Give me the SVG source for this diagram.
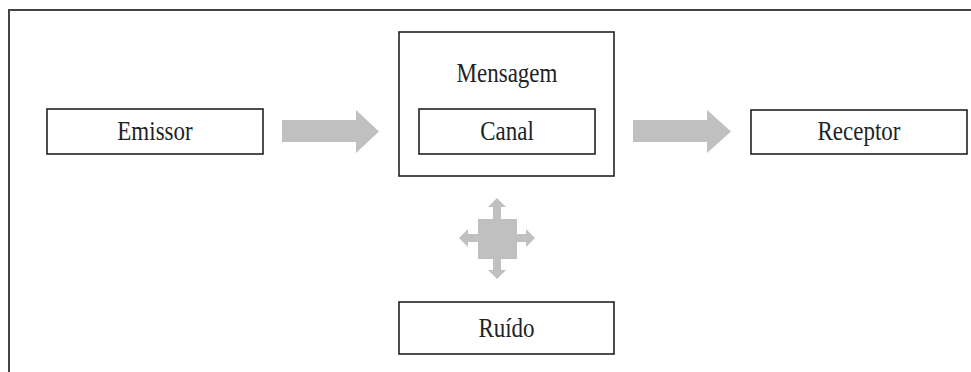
<svg xmlns="http://www.w3.org/2000/svg" width="971" height="372" viewBox="0 0 971 372">
<style>
.box{fill:#fff;stroke:#222;stroke-width:1.6}
.lbl{font-family:"Liberation Serif","Times New Roman",serif;font-size:23px;fill:#222;text-anchor:middle}
.arr{fill:#c0c0c0}
</style>
<rect width="971" height="372" fill="#fff"/>
<path d="M9,372 V10 H971" fill="none" stroke="#444" stroke-width="2"/>
<g id="connectors">
<polygon class="arr" points="282,120 356,120 356,110 379,131.5 356,153 356,142 282,142"/>
<polygon class="arr" points="633,120 707,120 707,110 731,131.5 707,153 707,142 633,142"/>
<polygon class="arr" points="478,219 493,219 493,207 488,207 497,198 506,207 501,207 501,219 517,219 517,234 526,234 526,229 535,238 526,247 526,242 517,242 517,259 501,259 501,270 506,270 497,279 488,270 493,270 493,259 478,259 478,242 468,242 468,247 459,238 468,229 468,234 478,234"/>
</g>
<g id="emissor">
<rect class="box" x="47" y="109" width="216" height="45"/>
<text class="lbl" transform="translate(155,140) scale(1,1.15)">Emissor</text>
</g>
<g id="mensagem">
<rect class="box" x="399" y="32" width="215" height="144"/>
<text class="lbl" transform="translate(507,82) scale(1,1.15)">Mensagem</text>
</g>
<g id="canal">
<rect class="box" x="419" y="109" width="176" height="45"/>
<text class="lbl" transform="translate(507,140) scale(1,1.15)">Canal</text>
</g>
<g id="receptor">
<rect class="box" x="751" y="110" width="216" height="44"/>
<text class="lbl" transform="translate(859,140) scale(1,1.15)">Receptor</text>
</g>
<g id="ruido">
<rect class="box" x="399" y="302" width="215" height="52"/>
<text class="lbl" transform="translate(506.5,337) scale(1,1.15)">Ruído</text>
</g>
</svg>
